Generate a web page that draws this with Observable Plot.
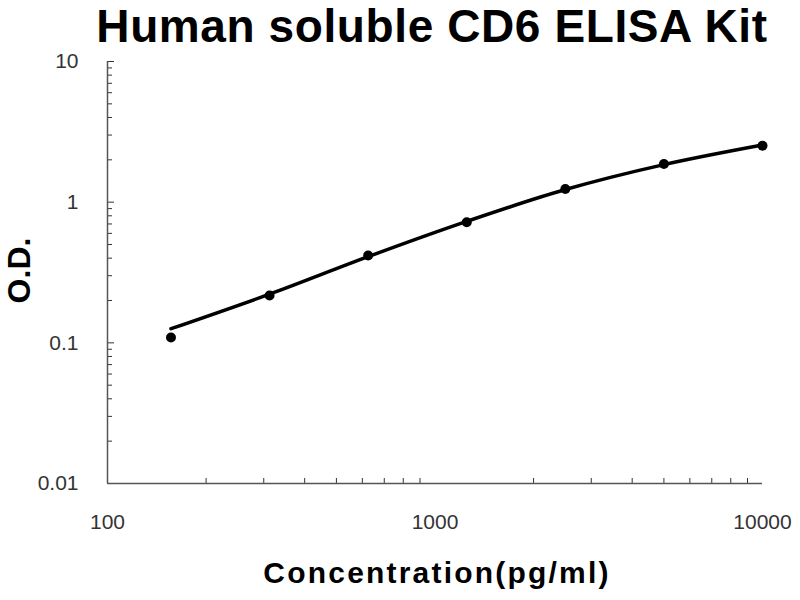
<!doctype html>
<html>
<head>
<meta charset="utf-8">
<style>
  body { margin: 0; background: #fff; font-family: "Liberation Sans", Arial, sans-serif; }
  #title { height: 50px; line-height: 52px; overflow: visible; text-align: center; font-weight: bold; font-size: 46px; letter-spacing: 0.6px; color: #000; white-space: nowrap; padding-left: 64px; }
</style>
</head>
<body>
<div id="title">Human soluble CD6 ELISA Kit</div>
<div id="myplot"></div>
<script src="https://cdn.jsdelivr.net/npm/d3@7"></script>
<script src="https://cdn.jsdelivr.net/npm/@observablehq/plot@0.6"></script>
<script>
  // standard curve
  const conc = [156.25, 312.5, 625, 1250, 2500, 5000, 10000];
  const od = [0.109, 0.217, 0.418, 0.72, 1.24, 1.87, 2.52];
  const fitOd = [0.126, 0.222, 0.41, 0.73, 1.23, 1.85, 2.55];

  const xMajor = [100, 1000, 10000];
  const yMajor = [0.01, 0.1, 1, 10];
  const xMinor = [200, 300, 400, 500, 600, 700, 800, 900, 2000, 3000, 4000, 5000, 6000, 7000, 8000, 9000];
  const yMinor = [0.02, 0.03, 0.04, 0.05, 0.06, 0.07, 0.08, 0.09, 0.2, 0.3, 0.4, 0.5, 0.6, 0.7, 0.8, 0.9, 2, 3, 4, 5, 6, 7, 8, 9];

  const points = conc.map((c, i) => ({ c, od: od[i] }));
  const fit = conc.map((c, i) => ({ c, od: fitOd[i] }));

  const plot = Plot.plot({
    width: 800,
    height: 550,
    marginLeft: 107,
    marginRight: 38,
    marginTop: 11,
    marginBottom: 117,
    style: { fontFamily: "Liberation Sans, Arial, sans-serif", color: "#333", background: "#fff" },
    x: { type: "log", domain: [100, 10000] },
    y: { type: "log", domain: [0.01, 10] },
    marks: [
      Plot.axisX({ ticks: xMajor, tickSize: 0, tickPadding: 31, tickFormat: d3.format("d"), fontSize: 21, label: null }),
      Plot.axisX({ ticks: xMinor, tickSize: -5, tickFormat: () => "", label: null, stroke: "#333" }),
      Plot.axisY({ ticks: yMinor, tickSize: -5, tickFormat: () => "", label: null, stroke: "#333" }),
      Plot.axisY({ ticks: yMajor, tickSize: -7, tickFormat: () => "", label: null, stroke: "#333" }),
      Plot.axisY({ ticks: yMajor, tickSize: 0, tickPadding: 29, tickFormat: d => String(d), fontSize: 21, label: null }),
      Plot.ruleX([100], { stroke: "#555", strokeWidth: 1.5 }),
      Plot.ruleY([0.01], { stroke: "#555", strokeWidth: 1.5 }),
      Plot.line(fit, { x: "c", y: "od", curve: "monotone-x", stroke: "#000", strokeWidth: 3.5 }),
      Plot.dot(points, { x: "c", y: "od", r: 5, fill: "#000" }),
      Plot.text(["Concentration(pg/ml)"], { frameAnchor: "bottom", dx: 2, dy: 99, fontSize: 30, fontWeight: "bold", fill: "#000" }),
      Plot.text(["O.D."], { frameAnchor: "left", textAnchor: "middle", dx: -88, dy: -2, rotate: -90, fontSize: 32, fontWeight: "bold", fill: "#000" })
    ]
  });

  // the original lettering is a little wider than Arial bold
  d3.select(plot).selectAll("text")
    .filter(function () { return this.textContent === "Concentration(pg/ml)"; })
    .attr("letter-spacing", "2.2px");

  const div = document.querySelector("#myplot");
  div.append(plot);
</script>
</body>
</html>
